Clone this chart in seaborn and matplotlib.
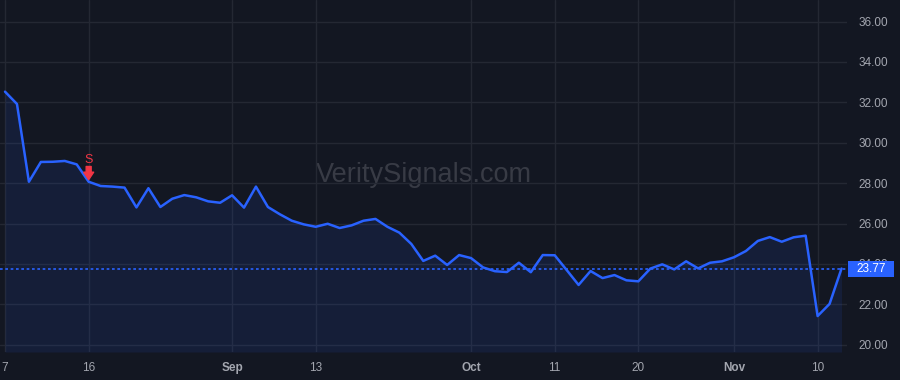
import numpy as np
import pandas as pd
import matplotlib
matplotlib.use("Agg")
import matplotlib.pyplot as plt
from matplotlib.patches import Rectangle
from matplotlib.transforms import blended_transform_factory
import seaborn as sns

# ---- data ----
dates = pd.bdate_range("2023-08-07", "2023-11-14", freq="C", holidays=["2023-09-04"])
close = [32.53, 31.92, 28.07, 29.05, 29.06, 29.10, 28.93, 28.07, 27.86, 27.83,
         27.78, 26.80, 27.75, 26.82, 27.23, 27.41, 27.30, 27.10, 27.03, 27.40,
         26.79, 27.83, 26.82, 26.46, 26.14, 25.96, 25.84, 25.99, 25.78, 25.91,
         26.14, 26.23, 25.84, 25.55, 24.99, 24.15, 24.41, 23.95, 24.44, 24.29,
         23.83, 23.64, 23.60, 24.06, 23.59, 24.44, 24.43, 23.70, 22.96, 23.65,
         23.30, 23.45, 23.19, 23.14, 23.77, 23.98, 23.73, 24.13, 23.78, 24.06,
         24.13, 24.33, 24.64, 25.14, 25.33, 25.10, 25.32, 25.40, 21.42, 22.02,
         23.77]
tick_dates = ["2023-08-07", "2023-08-16", "2023-09-01", "2023-09-13", "2023-10-02",
              "2023-10-11", "2023-10-20", "2023-11-01", "2023-11-10"]
tick_labels = ["7", "16", "Sep", "13", "Oct", "11", "20", "Nov", "10"]
month_labels = {"Sep", "Oct", "Nov"}
y_ticks = [20, 22, 24, 26, 28, 30, 32, 34, 36]
signal_dates = ["2023-08-16"]
signal_texts = ["S"]
watermark = "VeritySignals.com"

df = pd.DataFrame({"date": dates, "close": close})
df["i"] = np.arange(len(df))

BG = "#131722"
GRID = "#242833"
LINE = "#2962ff"
TXT = "#a3a6af"
RED = "#f23645"

sns.set_theme(style="dark")
plt.rcParams["font.family"] = ["Liberation Sans", "DejaVu Sans"]

fig = plt.figure(figsize=(9, 3.8), dpi=100, facecolor=BG)
ax = fig.add_axes([0, 1 - 352 / 380, 847 / 900, 352 / 380])
ax.set_facecolor(BG)

ymin, ymax = 19.64, 37.07
ax.set_xlim(-0.42, 70.46)
ax.set_ylim(ymin, ymax)

ax.fill_between(df["i"], df["close"], ymin, color=LINE, alpha=0.10, linewidth=0, zorder=1)
sns.lineplot(data=df, x="i", y="close", ax=ax, color=LINE, linewidth=1.8, zorder=3)

last = close[-1]
ax.axhline(last, color=LINE, lw=1.2, ls=(0, (1.6, 1.6)), zorder=2)

# ticks
idx_of = {d.strftime("%Y-%m-%d"): i for i, d in enumerate(dates)}
xt = [idx_of[d] for d in tick_dates]
ax.set_xticks(xt)
ax.set_xticklabels(tick_labels)
for lab in ax.get_xticklabels():
    if lab.get_text() in month_labels:
        lab.set_fontweight("bold")
ax.set_yticks(y_ticks)
ax.set_yticklabels([f"{v:.2f}" for v in y_ticks])
ax.yaxis.tick_right()
ax.tick_params(axis="x", length=0, pad=7, labelsize=8.5, labelcolor=TXT)
ax.tick_params(axis="y", length=0, pad=8, labelsize=8.5, labelcolor=TXT)
ax.grid(True, color=GRID, lw=1)
ax.set_xlabel("")
ax.set_ylabel("")
for s in ax.spines.values():
    s.set_visible(False)

# signals
for d, t in zip(signal_dates, signal_texts):
    i = idx_of[d]
    yv = close[i]
    ax.annotate("", xy=(i, yv), xycoords="data", xytext=(0, 11), textcoords="offset points",
                arrowprops=dict(arrowstyle="simple,head_width=0.6,head_length=0.45,tail_width=0.3",
                                color=RED, shrinkA=0, shrinkB=1.5), zorder=6)
    ax.annotate(t, xy=(i, yv), xytext=(0, 15.5), textcoords="offset points",
                ha="center", va="center", color=RED, fontsize=9, zorder=6)

# watermark
ax.text(0.5, 0.4838, watermark, transform=ax.transAxes, ha="center", va="baseline",
        fontsize=19.5, color="#383b45", zorder=0.5)

# last price label
tr = blended_transform_factory(ax.transAxes, ax.transData)
h = 16 / 20.19
ax.add_patch(Rectangle((1.001, last - h / 2), 0.055, h, transform=tr, facecolor=LINE,
                       edgecolor="none", clip_on=False, zorder=10))
ax.text(1.0285, last, f"{last:.2f}", transform=tr, ha="center", va="center",
        color="white", fontsize=8.5, zorder=11, clip_on=False)

fig.savefig("out.png", dpi=100, facecolor=BG)
